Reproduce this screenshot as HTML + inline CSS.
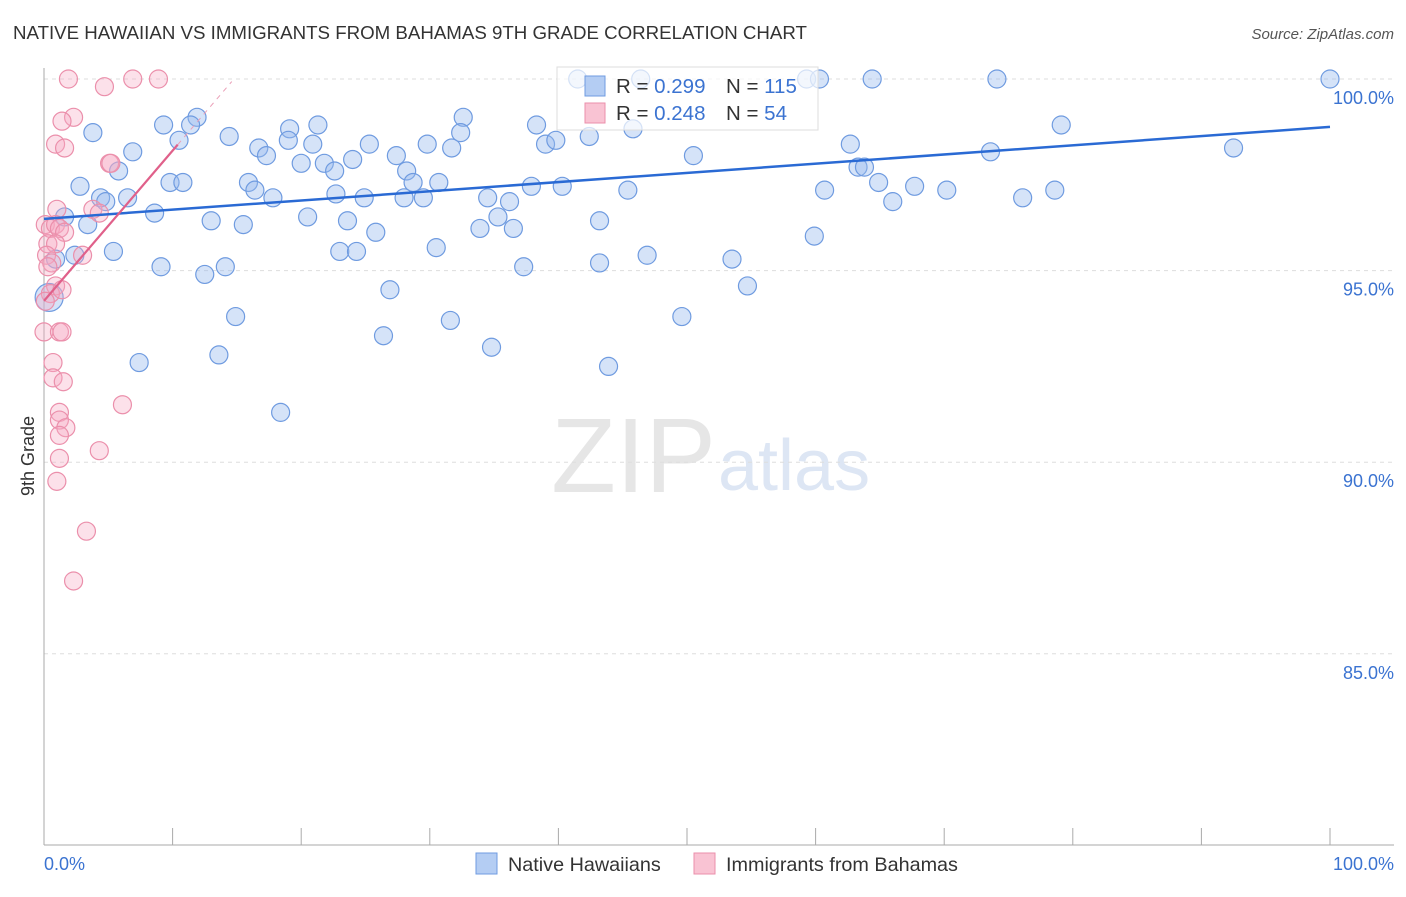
<!DOCTYPE html>
<html><head><meta charset="utf-8"><style>
body{margin:0;background:#fff;font-family:"Liberation Sans",sans-serif;}
svg text{font-family:"Liberation Sans",sans-serif;}
</style></head><body>
<svg id="chart" width="1406" height="892" xmlns="http://www.w3.org/2000/svg">
<text x="13" y="39" font-size="18.7" fill="#333">NATIVE HAWAIIAN VS IMMIGRANTS FROM BAHAMAS 9TH GRADE CORRELATION CHART</text>
<text x="1394" y="39" font-size="15" fill="#555" text-anchor="end" font-style="italic">Source: ZipAtlas.com</text>
<text x="716" y="492" font-size="106" fill="#e6e6e6" text-anchor="end" font-family="Liberation Serif">ZIP</text>
<text x="718" y="490" font-size="72" fill="#dde6f4">atlas</text>
<g id="grid"></g><g id="axes"></g><g id="pts"></g><g id="lines"></g>
<text transform="translate(34,456) rotate(-90)" font-size="18" fill="#333" text-anchor="middle">9th Grade</text>
<text x="44" y="870" font-size="18" fill="#3b73d1">0.0%</text>
<text x="1394" y="870" font-size="18" fill="#3b73d1" text-anchor="end">100.0%</text>
<g>
<rect x="557" y="67" width="261" height="63" fill="#fff" fill-opacity="0.7" stroke="#ddd"/>
<rect x="585" y="76" width="20" height="20" fill="#b4cdf3" stroke="#6f9be0"/>
<rect x="585" y="103" width="20" height="20" fill="#f9c3d3" stroke="#eb8fab"/>
<text x="616" y="93" font-size="20.5" fill="#333">R = <tspan fill="#3b73d1">0.299</tspan></text>
<text x="726" y="93" font-size="20.5" fill="#333">N = <tspan fill="#3b73d1">115</tspan></text>
<text x="616" y="120" font-size="20.5" fill="#333">R = <tspan fill="#3b73d1">0.248</tspan></text>
<text x="726" y="120" font-size="20.5" fill="#333">N = <tspan fill="#3b73d1"> 54</tspan></text>
</g>
<g>
<rect x="476" y="853" width="21" height="21" fill="#b4cdf3" stroke="#6f9be0"/>
<text x="508" y="871" font-size="19.8" fill="#333">Native Hawaiians</text>
<rect x="694" y="853" width="21" height="21" fill="#f9c3d3" stroke="#eb8fab"/>
<text x="726" y="871" font-size="19.8" fill="#333">Immigrants from Bahamas</text>
</g>
</svg>
<script>
const yTicks=[100,95,90,85];
const yTickLabels=["100.0%","95.0%","90.0%","85.0%"];
const xTicks=[0,10,20,30,40,50,60,70,80,90,100];
const blueX=[41.5,46.4,59.3,60.3,64.4,74.1,100,3.8,9.3,11.9,11.4,10.5,6.9,14.4,16.7,17.3,19.1,19.0,21.3,20.9,20.0,21.8,22.6,24.0,25.3,27.4,28.2,29.8,31.7,32.6,32.4,38.3,39.0,39.8,42.4,45.8,50.5,62.7,63.3,63.8,73.6,79.1,92.5,2.8,5.8,4.4,4.8,6.5,9.8,10.8,15.9,16.4,17.8,22.7,24.9,28.7,28.0,29.5,30.7,34.5,36.2,37.9,40.3,45.4,60.7,64.9,66.0,67.7,70.2,76.1,78.6,1.6,3.4,8.6,13.0,15.5,20.5,23.6,25.8,33.9,35.3,36.5,43.2,59.9,5.4,2.4,0.9,9.1,12.5,14.1,23.0,24.3,30.5,37.3,43.2,46.9,53.5,26.9,54.7,14.9,31.6,49.6,26.4,13.6,34.8,7.4,43.9,18.4,0.4];
const blueY=[100,100,100,100,100,100,100,98.6,98.8,99.0,98.8,98.4,98.1,98.5,98.2,98.0,98.7,98.4,98.8,98.3,97.8,97.8,97.6,97.9,98.3,98.0,97.6,98.3,98.2,99.0,98.6,98.8,98.3,98.4,98.5,98.7,98.0,98.3,97.7,97.7,98.1,98.8,98.2,97.2,97.6,96.9,96.8,96.9,97.3,97.3,97.3,97.1,96.9,97.0,96.9,97.3,96.9,96.9,97.3,96.9,96.8,97.2,97.2,97.1,97.1,97.3,96.8,97.2,97.1,96.9,97.1,96.4,96.2,96.5,96.3,96.2,96.4,96.3,96.0,96.1,96.4,96.1,96.3,95.9,95.5,95.4,95.3,95.1,94.9,95.1,95.5,95.5,95.6,95.1,95.2,95.4,95.3,94.5,94.6,93.8,93.7,93.8,93.3,92.8,93.0,92.6,92.5,91.3,94.3];
const pinkX=[1.9,4.7,6.9,8.9,2.3,1.4,0.9,1.6,5.1,5.2,1.0,3.8,4.3,3.0,0.1,0.5,0.9,1.2,1.6,0.3,0.9,0.2,0.6,0.3,0.9,0.5,1.4,0.1,0,1.2,1.4,0.7,0.7,1.5,6.1,1.2,1.2,1.7,1.2,1.2,4.3,1.0,3.3,2.3];
const pinkY=[100,99.8,100,100,99.0,98.9,98.3,98.2,97.8,97.8,96.6,96.6,96.5,95.4,96.2,96.1,96.2,96.1,96.0,95.7,95.7,95.4,95.2,95.1,94.6,94.4,94.5,94.2,93.4,93.4,93.4,92.6,92.2,92.1,91.5,91.3,91.1,90.9,90.7,90.1,90.3,89.5,88.2,86.9];
const blueTrend=[96.35,98.75];
const pinkTrend=[94.21,0.392];
const X=v=>44+v*12.86, Y=v=>79+(100-v)*38.32;
const NS="http://www.w3.org/2000/svg";
function mk(tag,attrs,parent){const e=document.createElementNS(NS,tag);for(const k in attrs)e.setAttribute(k,attrs[k]);document.getElementById(parent).appendChild(e);return e;}
yTicks.forEach((t,i)=>{
 const l=mk('line',{x1:44,x2:1394,y1:Y(t),y2:Y(t),stroke:'#ddd','stroke-dasharray':'4,4'},'grid');
 
 
 const tx=mk('text',{x:1394,y:Y(t)+25,'font-size':18,fill:'#3b73d1','text-anchor':'end'},'grid');
 tx.textContent=yTickLabels[i];
 
 
});
const ya=mk('line',{x1:44,x2:44,y1:68,y2:845,stroke:'#aaa'},'axes');


const xa=mk('line',{x1:44,x2:1394,y1:845,y2:845,stroke:'#aaa'},'axes');


xTicks.forEach(t=>{const l=mk('line',{x1:X(t),x2:X(t),y1:828,y2:845,stroke:'#aaa'},'axes');
 
 });
blueX.forEach((x,i)=>{const c=mk('circle',{cx:X(x),cy:Y(blueY[i]),r:(i==blueX.length-1?14:9),fill:'rgba(150,185,238,0.4)',stroke:'#6f9be0','stroke-width':1.2},'pts');
 
 });
pinkX.forEach((x,i)=>{const c=mk('circle',{cx:X(x),cy:Y(pinkY[i]),r:9,fill:'rgba(246,170,195,0.35)',stroke:'#eb8fab','stroke-width':1.2},'pts');
 
 });
const bl=mk('line',{x1:X(0),y1:Y(blueTrend[0]),x2:X(100),y2:Y(blueTrend[1]),stroke:'#2a6ad4','stroke-width':2.5},'lines');


const pl=mk('line',{x1:X(0),y1:Y(pinkTrend[0]),x2:X(10.4),y2:Y(pinkTrend[0]+pinkTrend[1]*10.4),stroke:'#e0608a','stroke-width':2.2},'lines');


const pd=mk('line',{x1:X(10.4),y1:Y(pinkTrend[0]+pinkTrend[1]*10.4),x2:X(14.6),y2:Y(pinkTrend[0]+pinkTrend[1]*14.6),stroke:'#eba0b8','stroke-width':1,'stroke-dasharray':'5,5'},'lines');


</script>
</body></html>
